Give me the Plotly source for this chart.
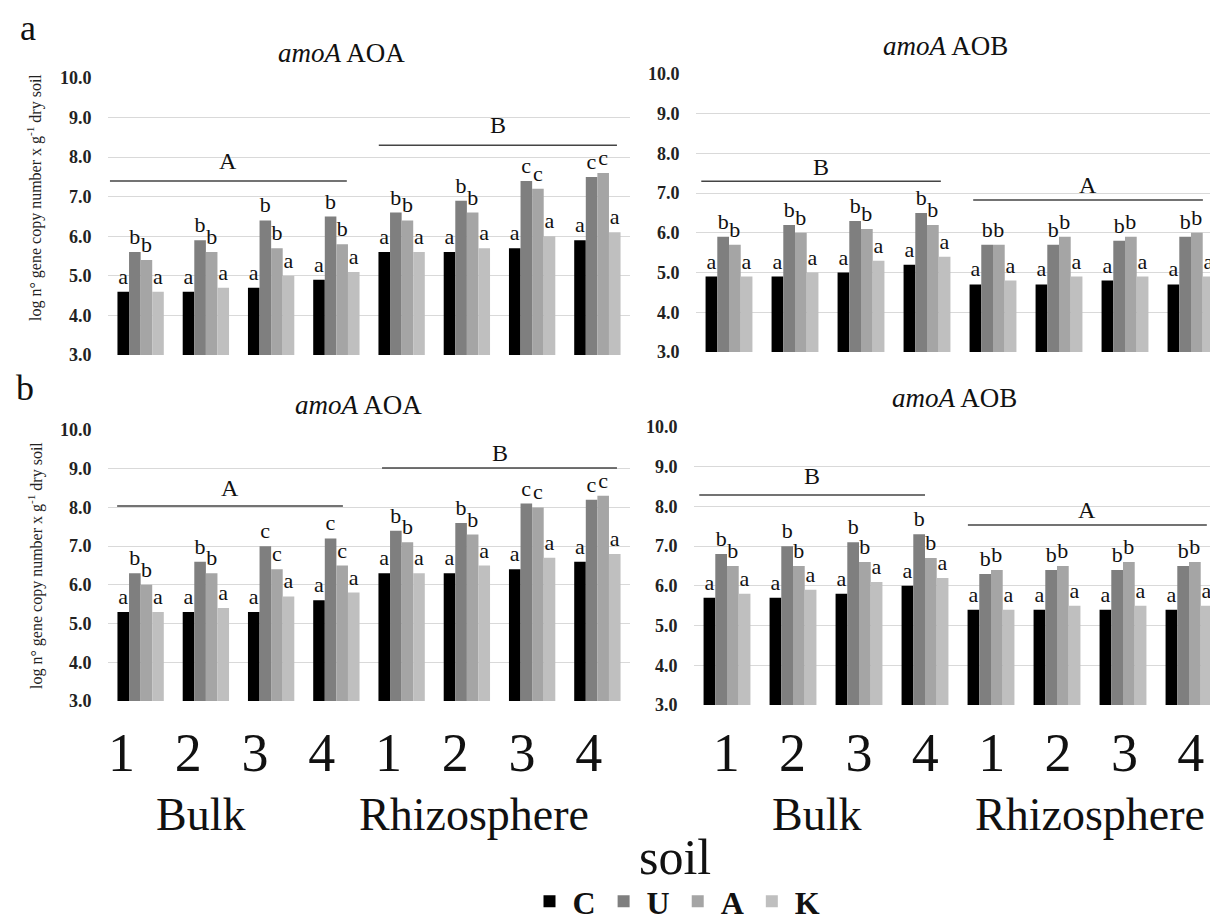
import plotly.graph_objects as go

W, H = 1218, 921

# ---------------- data ----------------
positions = ["1", "2", "3", "4", "1", "2", "3", "4"]
soil_types = ["Bulk", "Rhizosphere"]
treatments = ["C", "U", "A", "K"]

# panel a, amoA AOA
a_aoa_C = [4.6, 4.6, 4.7, 4.9, 5.6, 5.6, 5.7, 5.9]
a_aoa_U = [5.6, 5.9, 6.4, 6.5, 6.6, 6.9, 7.4, 7.5]
a_aoa_A = [5.4, 5.6, 5.7, 5.8, 6.4, 6.6, 7.2, 7.6]
a_aoa_K = [4.6, 4.7, 5.0, 5.1, 5.6, 5.7, 6.0, 6.1]
a_aoa_lab_U = ["b", "b", "b", "b", "b", "b", "c", "c"]
a_aoa_lab_A = ["b", "b", "b", "b", "b", "b", "c", "c"]

# panel a, amoA AOB
a_aob_C = [4.9, 4.9, 5.0, 5.2, 4.7, 4.7, 4.8, 4.7]
a_aob_U = [5.9, 6.2, 6.3, 6.5, 5.7, 5.7, 5.8, 5.9]
a_aob_A = [5.7, 6.0, 6.1, 6.2, 5.7, 5.9, 5.9, 6.0]
a_aob_K = [4.9, 5.0, 5.3, 5.4, 4.8, 4.9, 4.9, 4.9]
a_aob_lab_U = ["b"] * 8
a_aob_lab_A = ["b"] * 8

# panel b, amoA AOA
b_aoa_C = [5.3, 5.3, 5.3, 5.6, 6.3, 6.3, 6.4, 6.6]
b_aoa_U = [6.3, 6.6, 7.0, 7.2, 7.4, 7.6, 8.1, 8.2]
b_aoa_A = [6.0, 6.3, 6.4, 6.5, 7.1, 7.3, 8.0, 8.3]
b_aoa_K = [5.3, 5.4, 5.7, 5.8, 6.3, 6.5, 6.7, 6.8]
b_aoa_lab_U = ["b", "b", "c", "c", "b", "b", "c", "c"]
b_aoa_lab_A = ["b", "b", "c", "c", "b", "b", "c", "c"]

# panel b, amoA AOB
b_aob_C = [5.7, 5.7, 5.8, 6.0, 5.4, 5.4, 5.4, 5.4]
b_aob_U = [6.8, 7.0, 7.1, 7.3, 6.3, 6.4, 6.4, 6.5]
b_aob_A = [6.5, 6.5, 6.6, 6.7, 6.4, 6.5, 6.6, 6.6]
b_aob_K = [5.8, 5.9, 6.1, 6.2, 5.4, 5.5, 5.5, 5.5]
b_aob_lab_U = ["b"] * 8
b_aob_lab_A = ["b"] * 8

lab_C = ["a"] * 8
lab_K = ["a"] * 8

# soil-type significance letters: (letter, x start, x end, line level, label level)
a_aoa_sig = [("A", -0.47, 3.16, 7.4, 7.9), ("B", 3.65, 7.3, 8.3, 8.8)]
a_aob_sig = [("B", -0.42, 3.21, 7.3, 7.65), ("A", 3.70, 7.18, 6.83, 7.2)]
b_aoa_sig = [("A", -0.36, 3.10, 8.04, 8.5), ("B", 3.70, 7.30, 9.02, 9.4)]
b_aob_sig = [("B", -0.42, 3.00, 8.29, 8.77), ("A", 3.65, 7.27, 7.53, 7.92)]

# ---------------- style ----------------
colors = {"C": "#000000", "U": "#7f7f7f", "A": "#a5a5a5", "K": "#bfbfbf"}
SERIF = "Liberation Serif"


def px(x):
    return x / W


def py(y):
    return 1 - y / H


fig = go.Figure()

panels = [
    ("1", (a_aoa_C, a_aoa_U, a_aoa_A, a_aoa_K), (lab_C, a_aoa_lab_U, a_aoa_lab_A, lab_K),
     a_aoa_sig, (100, 622), (70, 347), (333, 45)),
    ("2", (a_aob_C, a_aob_U, a_aob_A, a_aob_K), (lab_C, a_aob_lab_U, a_aob_lab_A, lab_K),
     a_aob_sig, (688, 1216), (66, 344), (937, 38)),
    ("3", (b_aoa_C, b_aoa_U, b_aoa_A, b_aoa_K), (lab_C, b_aoa_lab_U, b_aoa_lab_A, lab_K),
     b_aoa_sig, (100, 622), (422, 693), (350, 397)),
    ("4", (b_aob_C, b_aob_U, b_aob_A, b_aob_K), (lab_C, b_aob_lab_U, b_aob_lab_A, lab_K),
     b_aob_sig, (686, 1214), (419, 697), (946, 390)),
]
titles = ["<i>amoA</i> AOA", "<i>amoA</i> AOB", "<i>amoA</i> AOA", "<i>amoA</i> AOB"]

xidx = list(range(len(positions)))
annotations = []
shapes = []

for pi, (n, vals, labs, sig, xd, yd, tpos) in enumerate(panels):
    xa = "x" if n == "1" else "x" + n
    ya = "y" if n == "1" else "y" + n
    for t, v, lb in zip(treatments, vals, labs):
        fig.add_trace(go.Bar(
            x=xidx, y=v, name=t, xaxis=xa, yaxis=ya,
            marker=dict(color=colors[t], line=dict(width=0)),
            text=lb, textposition="outside", cliponaxis=False,
            constraintext="none",
            textfont=dict(family=SERIF, size=22, color="#111111"),
            showlegend=(n == "1"), legendgroup=t, hoverinfo="skip",
        ))
    fig.update_layout(**{
        ("xaxis" if n == "1" else "xaxis" + n): dict(
            domain=[px(xd[0]), px(xd[1])], anchor=ya, range=[-0.5, 7.5],
            showticklabels=False, showgrid=False, zeroline=False, ticks="",
            fixedrange=True),
        ("yaxis" if n == "1" else "yaxis" + n): dict(
            domain=[py(yd[1]), py(yd[0])], anchor=xa, range=[3, 10],
            tickvals=[3, 4, 5, 6, 7, 8, 9, 10], tickformat=".1f",
            tickfont=dict(family=SERIF, size=18, color="#222222", weight="bold"),
            showgrid=True, gridcolor="#d9d9d9", gridwidth=1, zeroline=False,
            ticks="outside", ticklen=12, tickcolor="rgba(0,0,0,0)",
            showline=False, fixedrange=True),
    })
    for letter, x0, x1, yl, ylab in sig:
        shapes.append(dict(type="line", xref=xa, yref=ya, x0=x0, x1=x1, y0=yl, y1=yl,
                           line=dict(color="#444444", width=1.5)))
        annotations.append(dict(xref=xa, yref=ya, x=(x0 + x1) / 2, y=ylab, text=letter,
                                showarrow=False, font=dict(family=SERIF, size=24, color="#111111")))
    annotations.append(dict(xref="paper", yref="paper", x=px(tpos[0]), y=py(tpos[1]),
                            text=titles[pi], showarrow=False, xanchor="center", yanchor="middle",
                            font=dict(family=SERIF, size=27, color="#111111")))

# big category tick labels (own axes below the lower panels)
tick_axes = [("5", (80, 614), (192, 466)), ("6", (685, 1216), (808, 1082))]
for n, xd, grp in tick_axes:
    fig.add_trace(go.Scatter(x=xidx, y=[0] * len(xidx), xaxis="x" + n, yaxis="y" + n,
                             mode="markers", marker=dict(opacity=0), showlegend=False,
                             hoverinfo="skip"))
    fig.update_layout(**{
        "xaxis" + n: dict(domain=[px(xd[0]), px(xd[1])], anchor="y" + n, range=[-0.5, 7.5],
                          tickvals=xidx, ticktext=positions, ticks="", showgrid=False,
                          zeroline=False, showline=False, side="bottom",
                          tickfont=dict(family=SERIF, size=54, color="#111111"),
                          fixedrange=True),
        "yaxis" + n: dict(domain=[py(708), py(706)], anchor="x" + n, visible=False,
                          range=[-1, 1], fixedrange=True),
    })
    for g, cx in zip(soil_types, grp):
        annotations.append(dict(xref="paper", yref="paper", x=px(cx), y=py(806), text=g,
                                showarrow=False, xanchor="center", yanchor="middle",
                                font=dict(family=SERIF, size=46, color="#111111")))

ytitle = "log n° gene copy number x g<sup>-1</sup> dry soil"
for cy in (190, 558):
    annotations.append(dict(xref="paper", yref="paper", x=px(27), y=py(cy), text=ytitle,
                            textangle=-90, showarrow=False, xanchor="center", yanchor="middle",
                            font=dict(family=SERIF, size=16, color="#222222")))
annotations.append(dict(xref="paper", yref="paper", x=px(667), y=py(849), text="soil",
                        showarrow=False, xanchor="center", yanchor="middle",
                        font=dict(family=SERIF, size=50, color="#111111")))
annotations.append(dict(xref="paper", yref="paper", x=px(20), y=py(20), text="a",
                        showarrow=False, xanchor="center", yanchor="middle",
                        font=dict(family=SERIF, size=36, color="#111111")))
annotations.append(dict(xref="paper", yref="paper", x=px(17), y=py(380), text="b",
                        showarrow=False, xanchor="center", yanchor="middle",
                        font=dict(family=SERIF, size=36, color="#111111")))

fig.update_layout(
    width=W, height=H,
    margin=dict(l=0, r=0, t=0, b=0, autoexpand=False),
    paper_bgcolor="white", plot_bgcolor="white",
    barmode="group", bargap=0.29, bargroupgap=0,
    font=dict(family=SERIF, color="#111111"),
    annotations=annotations, shapes=shapes,
    legend=dict(orientation="h", x=px(668), xanchor="center", y=0.0, yanchor="bottom",
                font=dict(family=SERIF, size=32, color="#111111", weight="bold"),
                itemwidth=36, tracegroupgap=0, bgcolor="rgba(0,0,0,0)"),
    hovermode=False,
)

fig.write_html("out.html")
